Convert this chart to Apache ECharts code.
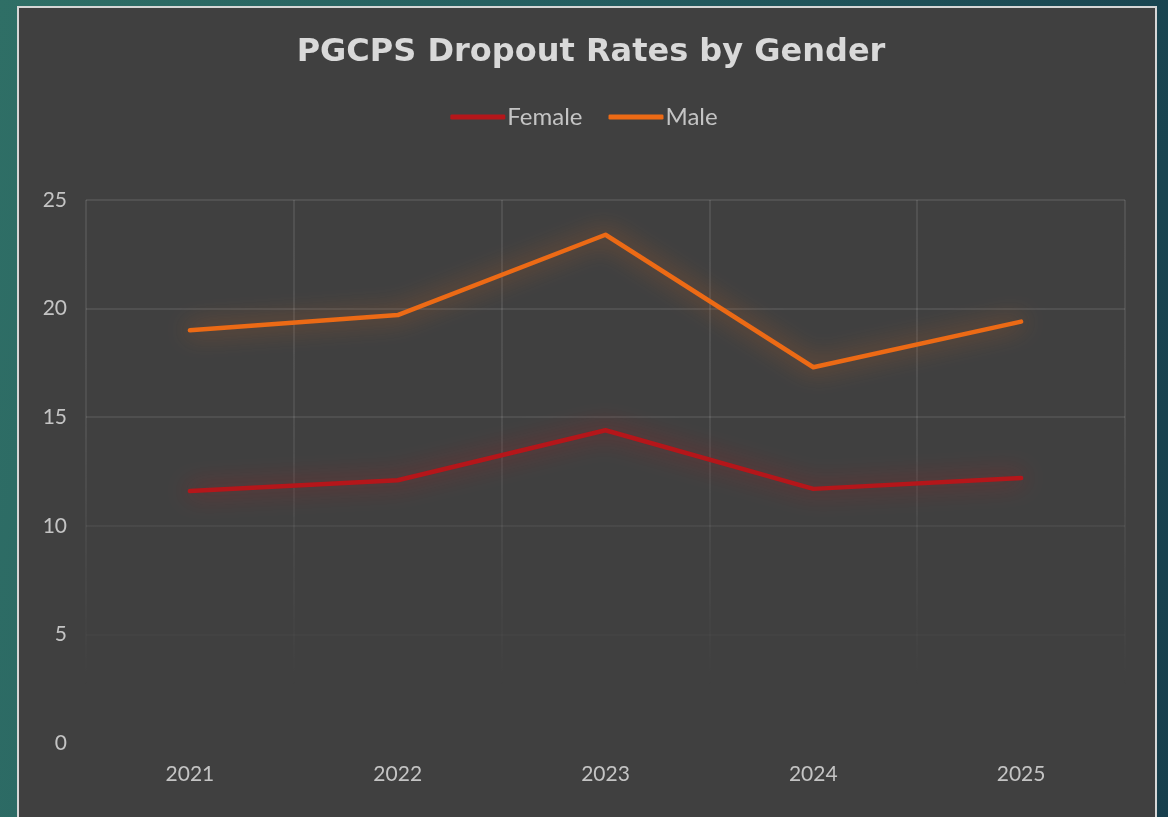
<!DOCTYPE html>
<html>
<head>
<meta charset="utf-8">
<script src="https://cdn.jsdelivr.net/npm/echarts@6/dist/echarts.min.js"></script>
<style>
  html, body { margin: 0; padding: 0; width: 1168px; height: 817px; overflow: hidden; }
  body { background: linear-gradient(100deg, #2f6f66 0%, #245d60 45%, #173f4d 100%); }
  #box { position: absolute; left: 17px; top: 6px; width: 1136px; height: 830px;
         background: #404040; border: 2px solid #d6d6d6; }
  #chart { position: absolute; left: 0; top: 0; width: 1168px; height: 817px; }
</style>
</head>
<body>
<div id="box"></div>
<div id="chart"></div>
<script>
// 数据
var years = ["2021", "2022", "2023", "2024", "2025"];
var female = [11.6, 12.1, 14.4, 11.7, 12.2];
var male = [19.0, 19.7, 23.4, 17.3, 19.4];
var yTicks = [0, 5, 10, 15, 20, 25];

var fontFam = "Lato, 'Open Sans', sans-serif";

// 网格线渐隐
var gridFade = {
  type: "linear", x: 0, y: 200, x2: 0, y2: 690, global: true,
  colorStops: [
    { offset: 0, color: "rgba(255,255,255,0.12)" },
    { offset: 0.45, color: "rgba(255,255,255,0.11)" },
    { offset: 1, color: "rgba(255,255,255,0)" }
  ]
};

var chart = echarts.init(document.getElementById("chart"));
chart.setOption({
  backgroundColor: "transparent",
  title: {
    text: "PGCPS Dropout Rates by Gender",
    left: 586,
    textAlign: "center",
    top: 32,
    textStyle: { color: "#d9d9d9", fontSize: 32, fontWeight: "bold", fontFamily: "'DejaVu Sans', sans-serif" }
  },
  legend: {
    top: 100,
    left: "center",
    itemWidth: 55,
    itemHeight: 5,
    itemGap: 26,
    icon: "roundRect",
    textStyle: { color: "#c4c4c4", fontSize: 24, fontFamily: fontFam, padding: [0, 0, 0, -3] },
    data: ["Female", "Male"]
  },
  grid: { left: 86, right: 43, top: 200, bottom: 74 },
  xAxis: {
    type: "category",
    data: years,
    axisLine: { show: false },
    axisTick: { show: false },
    axisLabel: { color: "#c4c4c4", fontSize: 21, fontFamily: fontFam, margin: 21 },
    splitLine: { show: true, lineStyle: { color: gridFade, width: 1.5 } }
  },
  yAxis: {
    type: "value",
    min: yTicks[0],
    max: yTicks[yTicks.length - 1],
    interval: 5,
    axisLine: { show: false },
    axisTick: { show: false },
    axisLabel: { color: "#c4c4c4", fontSize: 21, fontFamily: fontFam, margin: 19 },
    splitLine: { lineStyle: { color: gridFade, width: 1.5 } }
  },
  series: [
    {
      name: "Female",
      type: "line",
      data: female,
      symbol: "none",
      itemStyle: { color: "#b5161a" },
      lineStyle: { color: "#b5161a", width: 4.5, cap: "round", join: "round",
        shadowBlur: 24, shadowColor: "rgba(200,20,20,0.75)" }
    },
    {
      name: "Male",
      type: "line",
      data: male,
      symbol: "none",
      itemStyle: { color: "#ec6a15" },
      lineStyle: { color: "#ec6a15", width: 4.5, cap: "round", join: "round",
        shadowBlur: 24, shadowColor: "rgba(236,106,21,0.7)" }
    }
  ]
});
</script>
</body>
</html>
